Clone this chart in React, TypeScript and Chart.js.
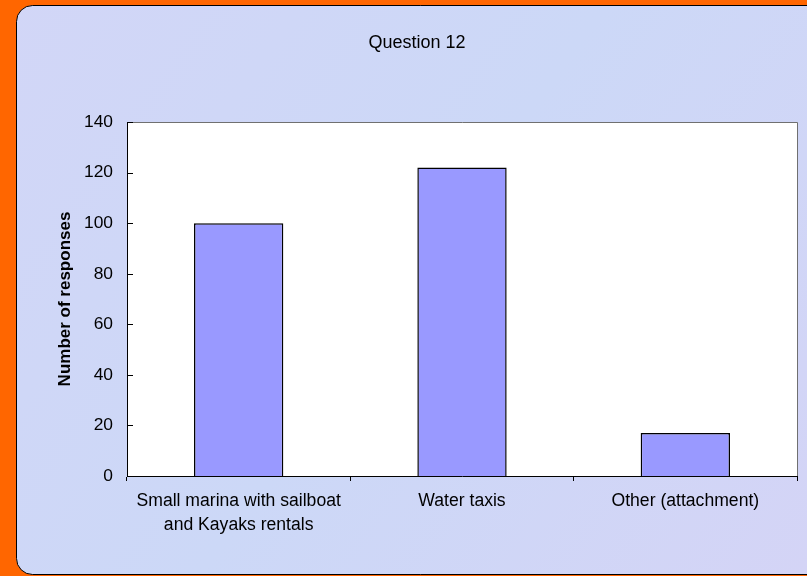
import React, { useEffect, useRef } from "react";
import { Chart, registerables } from "chart.js";

Chart.register(...registerables);

const categories: (string | string[])[] = [
  ["Small marina with sailboat", "and Kayaks rentals"],
  "Water taxis",
  "Other (attachment)",
];
const responses: number[] = [100, 122, 17];
const yTicks: number[] = [0, 20, 40, 60, 80, 100, 120, 140];

const FONT = "'Liberation Sans', Arial, sans-serif";

const backgroundPlugin = {
  id: "bgPanel",
  beforeDraw(chart: any) {
    const { ctx, width, height, chartArea } = chart;
    ctx.save();
    ctx.fillStyle = "#FF6600";
    ctx.fillRect(0, 0, width, height);
    // panel
    const x = 16.5, y = 5.5, w = width + 20, h = height - 7, r = 16;
    ctx.beginPath();
    ctx.moveTo(x + r, y);
    ctx.lineTo(x + w - r, y);
    ctx.arcTo(x + w, y, x + w, y + r, r);
    ctx.lineTo(x + w, y + h - r);
    ctx.arcTo(x + w, y + h, x + w - r, y + h, r);
    ctx.lineTo(x + r, y + h);
    ctx.arcTo(x, y + h, x, y + h - r, r);
    ctx.lineTo(x, y + r);
    ctx.arcTo(x, y, x + r, y, r);
    ctx.closePath();
    const g = ctx.createLinearGradient(0, 0, width, height);
    g.addColorStop(0, "#D2D6F7");
    g.addColorStop(0.5, "#CCD8F7");
    g.addColorStop(1, "#D4D4F6");
    ctx.fillStyle = g;
    ctx.fill();
    ctx.strokeStyle = "#000";
    ctx.lineWidth = 1;
    ctx.stroke();
    // plot area
    ctx.fillStyle = "#FFFFFF";
    ctx.fillRect(
      chartArea.left,
      chartArea.top,
      chartArea.right - chartArea.left,
      chartArea.bottom - chartArea.top
    );
    ctx.restore();
  },
  afterDraw(chart: any) {
    const { ctx, chartArea } = chart;
    const ys = chart.scales.y;
    ctx.save();
    // grey top & right border
    ctx.strokeStyle = "#707070";
    ctx.lineWidth = 1;
    ctx.beginPath();
    ctx.moveTo(chartArea.left, Math.round(chartArea.top) + 0.5);
    ctx.lineTo(Math.round(chartArea.right) + 0.5, Math.round(chartArea.top) + 0.5);
    ctx.lineTo(Math.round(chartArea.right) + 0.5, chartArea.bottom);
    ctx.stroke();
    // inward y tick marks
    ctx.strokeStyle = "#000";
    ctx.beginPath();
    ys.ticks.forEach((t: any) => {
      const py = Math.round(ys.getPixelForValue(t.value)) + 0.5;
      ctx.moveTo(chartArea.left, py);
      ctx.lineTo(chartArea.left + 6, py);
    });
    ctx.stroke();
    ctx.restore();
  },
};

export default function App() {
  const ref = useRef<HTMLCanvasElement>(null);
  useEffect(() => {
    if (!ref.current) return;
    const chart = new Chart(ref.current, {
      type: "bar",
      data: {
        labels: categories,
        datasets: [
          {
            data: responses,
            backgroundColor: "#9999FF",
            borderColor: "#000000",
            borderWidth: 1.5,
            barPercentage: 0.4,
            categoryPercentage: 1,
          },
        ],
      },
      options: {
        animation: false,
        responsive: false,
        maintainAspectRatio: false,
        layout: { padding: { left: 37, right: 10, top: 0, bottom: 0 } },
        plugins: {
          legend: { display: false },
          tooltip: { enabled: false },
          title: {
            display: true,
            text: "Question 12",
            color: "#000",
            font: { family: FONT, size: 18, weight: "normal" },
            padding: { top: 32, bottom: 68.4 },
          },
        },
        scales: {
          x: {
            grid: {
              display: true,
              drawOnChartArea: false,
              drawTicks: true,
              tickLength: 5,
              color: "#000",
              offset: true,
            },
            border: { display: true, color: "#000", width: 1 },
            ticks: {
              color: "#000",
              font: { family: FONT, size: 17.6, lineHeight: 1.32 },
              padding: 9,
              maxRotation: 0,
              autoSkip: false,
            },
            afterFit: (s: any) => {
              s.height = 100;
            },
          },
          y: {
            min: 0,
            max: 140,
            afterBuildTicks: (s: any) => {
              s.ticks = yTicks.map((v) => ({ value: v }));
            },
            grid: { display: false, drawTicks: false },
            border: { display: true, color: "#000", width: 1 },
            ticks: {
              color: "#000",
              font: { family: FONT, size: 17.4 },
              padding: 14,
            },
            title: {
              display: true,
              text: "Number of responses",
              color: "#000",
              font: { family: FONT, size: 17, weight: "bold" },
              padding: { top: 18, bottom: 0 },
            },
            afterFit: (s: any) => {
              s.width = 90;
            },
          },
        },
      },
      plugins: [backgroundPlugin],
    });
    return () => chart.destroy();
  }, []);
  return (
    <div style={{ position: "absolute", left: 0, top: 0, width: 807, height: 576 }}>
      <canvas ref={ref} width={807} height={576} />
    </div>
  );
}
